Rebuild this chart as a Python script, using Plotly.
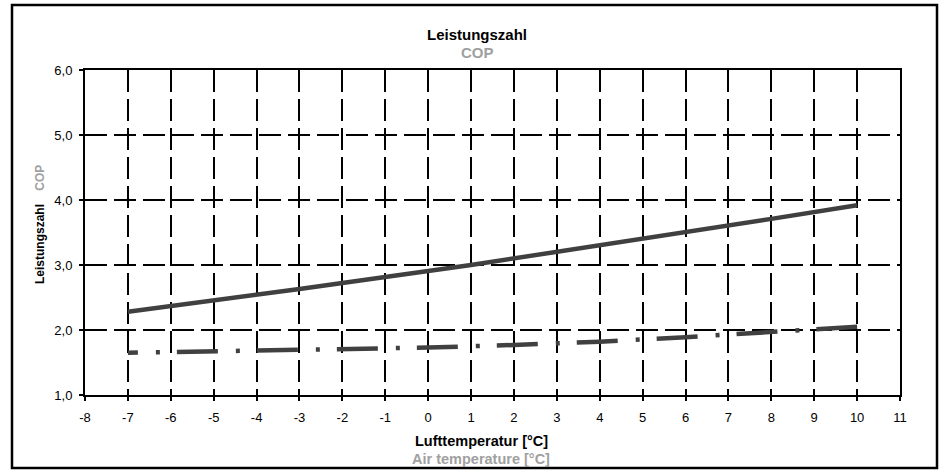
import plotly.graph_objects as go

# Data
temp_upper = [-7, -3, 1, 5, 8, 10]
cop_upper = [2.28, 2.63, 3.00, 3.40, 3.71, 3.92]

temp_lower = [-7, -2, 0, 2, 4, 6, 8, 10]
cop_lower = [1.65, 1.70, 1.73, 1.77, 1.82, 1.89, 1.97, 2.05]

x_ticks = list(range(-8, 12))
y_ticks = [1, 2, 3, 4, 5, 6]

W, H = 948, 473
L, R, T, B = 85, 48, 70, 78
pw, ph = W - L - R, H - T - B

def px(x):
    return (x - L) / pw

def py(y):
    return (H - B - y) / ph

LINE = "#404040"
GRAY = "#a0a0a0"
FONT = "Liberation Sans, Arial, sans-serif"

# dash-dot pattern, starting part-way into a dash as in the reference
dash_pattern = "10px,18px,4px,17px," + ",".join(["41px,18px,4px,17px"] * 11)

fig = go.Figure()
fig.add_trace(go.Scatter(x=temp_upper, y=cop_upper, mode="lines",
                         line=dict(color=LINE, width=4.5), showlegend=False,
                         hoverinfo="skip"))
fig.add_trace(go.Scatter(x=temp_lower, y=cop_lower, mode="lines",
                         line=dict(color=LINE, width=4.5, dash=dash_pattern),
                         showlegend=False, hoverinfo="skip"))

grid = dict(showgrid=True, gridcolor="black", gridwidth=2, griddash="22px,7px")
fig.update_xaxes(range=[-8, 11], tickvals=x_ticks, ticktext=[str(v) for v in x_ticks],
                 showline=True, linecolor="black", linewidth=2, mirror=True,
                 ticks="outside", ticklen=4, tickwidth=2, tickcolor="black",
                 ticklabelstandoff=5,
                 tickfont=dict(family=FONT, size=13, color="black"),
                 zeroline=False, **grid)
fig.update_yaxes(range=[1, 6], tickvals=y_ticks, tickformat=".1f",
                 showline=True, linecolor="black", linewidth=2, mirror=True,
                 ticks="outside", ticklen=4, tickwidth=2, tickcolor="black",
                 ticklabelstandoff=4,
                 tickfont=dict(family=FONT, size=13, color="black"),
                 zeroline=False, **grid)

ann = [
    dict(text="<b>Leistungszahl</b>", x=px(477), y=py(35), font=dict(size=15, color="black")),
    dict(text="<b>COP</b>", x=px(477), y=py(52), font=dict(size=15, color=GRAY)),
    dict(text="<b>Lufttemperatur [°C]</b>", x=px(481), y=py(441), font=dict(size=14.5, color="black")),
    dict(text="<b>Air temperature [°C]</b>", x=px(481), y=py(459), font=dict(size=14.5, color=GRAY)),
    dict(text="<b>Leistungszahl</b>&nbsp;&nbsp;&nbsp;&nbsp;<span style='color:%s'><b>COP</b></span>" % GRAY,
         x=px(40), y=py(225), textangle=-90, font=dict(size=12, color="black")),
]
for a in ann:
    a.update(xref="paper", yref="paper", showarrow=False, xanchor="center", yanchor="middle")
    a["font"]["family"] = FONT

fig.update_layout(
    width=W, height=H,
    margin=dict(l=L, r=R, t=T, b=B),
    plot_bgcolor="white", paper_bgcolor="white",
    separators=",.",
    annotations=ann,
    shapes=[dict(type="rect", xref="paper", yref="paper",
                 x0=px(12), x1=px(937), y0=py(468), y1=py(5),
                 line=dict(color="black", width=2.5), layer="above")],
)

fig.write_html("out.html", config={"displayModeBar": False},
               post_script="document.body.style.margin='0';document.body.style.overflow='hidden';")
